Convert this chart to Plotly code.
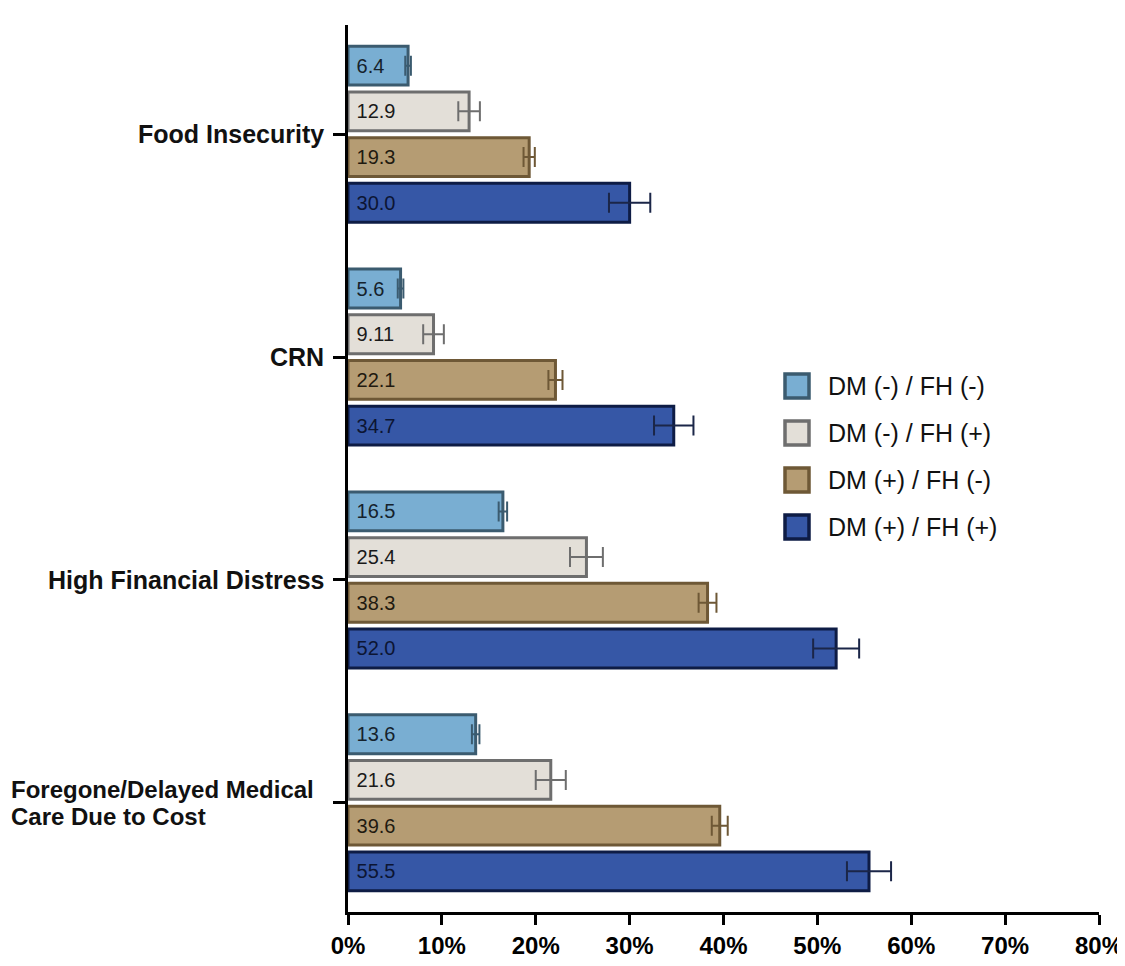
import plotly.graph_objects as go

# ---------------- data ----------------
categories = ["Food Insecurity", "CRN", "High Financial Distress",
              "Foregone/Delayed Medical Care Due to Cost"]
category_labels = ["Food Insecurity", "CRN", "High Financial Distress",
                   "Foregone/Delayed Medical<br>Care Due to Cost"]
series_names = ["DM (-) / FH (-)", "DM (-) / FH (+)", "DM (+) / FH (-)", "DM (+) / FH (+)"]

dm_neg_fh_neg = [6.4, 5.6, 16.5, 13.6]
dm_neg_fh_pos = [12.9, 9.11, 25.4, 21.6]
dm_pos_fh_neg = [19.3, 22.1, 38.3, 39.6]
dm_pos_fh_pos = [30.0, 34.7, 52.0, 55.5]

lbl_neg_neg = ["6.4", "5.6", "16.5", "13.6"]
lbl_neg_pos = ["12.9", "9.11", "25.4", "21.6"]
lbl_pos_neg = ["19.3", "22.1", "38.3", "39.6"]
lbl_pos_pos = ["30.0", "34.7", "52.0", "55.5"]

err_neg_neg = [0.3, 0.3, 0.45, 0.4]
err_neg_pos = [1.15, 1.1, 1.75, 1.6]
err_pos_neg = [0.6, 0.75, 0.95, 0.85]
err_pos_pos = [2.2, 2.1, 2.45, 2.35]

x_ticks = [0, 10, 20, 30, 40, 50, 60, 70, 80]

# ---------------- styles ----------------
fills = ["#79AED2", "#E3DFD8", "#B59C73", "#3657A6"]
outlines = ["#3B5B6F", "#6E6E6E", "#6E5836", "#0E1C45"]
err_colors = ["#3B5B6F", "#6E6E6E", "#6E5836", "#1B2648"]
text_colors = ["#15222C", "#1A1A1A", "#1F1A10", "#0C1533"]

series_vals = [dm_neg_fh_neg, dm_neg_fh_pos, dm_pos_fh_neg, dm_pos_fh_pos]
series_lbls = [lbl_neg_neg, lbl_neg_pos, lbl_pos_neg, lbl_pos_pos]
series_errs = [err_neg_neg, err_neg_pos, err_pos_neg, err_pos_pos]

FONT = "Liberation Sans, Arial, Helvetica, sans-serif"

# page is shown with the browser's default 8px body margin
OFF = 8
PAGE_W, PAGE_H = 1125, 966
W, H = PAGE_W - OFF, PAGE_H - OFF
# plot area in page pixels
PX0, PX1, PY0, PY1 = 348, 1099, 25, 912
L, R, T, B = PX0 - OFF, W - (PX1 - OFF), PY0 - OFF, H - (PY1 - OFF)
plot_w = PX1 - PX0
plot_h = PY1 - PY0


def px_to_paper_x(px):
    return (px - PX0) / plot_w


def py_to_paper_y(py):
    return (PY1 - py) / plot_h


fig = go.Figure()
for i in range(4):
    fig.add_trace(go.Bar(
        name=series_names[i],
        y=categories,
        x=series_vals[i],
        orientation="h",
        text=series_lbls[i],
        texttemplate="\u00a0%{text}",
        textposition="inside",
        insidetextanchor="start",
        textangle=0,
        constraintext="none",
        textfont=dict(family=FONT, size=20, color=text_colors[i], weight="normal"),
        marker=dict(color=fills[i], line=dict(color=outlines[i], width=3)),
        error_x=dict(type="data", array=series_errs[i], visible=True,
                     color=err_colors[i], thickness=2, width=10),
        showlegend=False,
        cliponaxis=False,
    ))

# category labels
for cat, lab in zip(categories, category_labels):
    lines = lab.split("<br>")
    n = len(lines)
    for j, line in enumerate(lines):
        if n == 1:
            xa, xv, fs = "right", px_to_paper_x(326), 25
        else:
            xa, xv, fs = "left", px_to_paper_x(9), 24
        fig.add_annotation(
            x=xv, xref="paper", xanchor=xa,
            y=cat, yref="y", yanchor="middle",
            yshift=((n - 1) / 2 - j) * 27,
            text=line, showarrow=False,
            font=dict(family=FONT, size=fs, color="#111111", weight="bold"),
        )

# legend drawn as boxes + labels
leg_x0 = 785
box = 24
leg_y0 = 386
leg_dy = 47
for i, name in enumerate(series_names):
    yc = leg_y0 + i * leg_dy
    fig.add_shape(
        type="rect", xref="paper", yref="paper",
        x0=px_to_paper_x(leg_x0), x1=px_to_paper_x(leg_x0 + box),
        y0=py_to_paper_y(yc + box / 2), y1=py_to_paper_y(yc - box / 2),
        fillcolor=fills[i], line=dict(color=outlines[i], width=3.5),
    )
    fig.add_annotation(
        x=px_to_paper_x(826), xref="paper", xanchor="left",
        y=py_to_paper_y(yc), yref="paper", yanchor="middle",
        text=name, showarrow=False,
        font=dict(family=FONT, size=25, color="#111111", weight="normal"),
    )

fig.update_layout(
    width=W, height=H,
    margin=dict(l=L, r=R, t=T, b=B, pad=0),
    paper_bgcolor="white", plot_bgcolor="white",
    barmode="group", bargap=0.18, bargroupgap=0.15,
    showlegend=False,
    font=dict(family=FONT),
    xaxis=dict(
        range=[0, 80], tickvals=x_ticks, ticktext=[f"{v}%" for v in x_ticks],
        showgrid=False, zeroline=False,
        showline=True, linecolor="black", linewidth=2.5,
        ticks="outside", ticklen=10, tickwidth=2.5, tickcolor="black",
        tickfont=dict(family=FONT, size=24, color="black", weight="bold"),
        ticklabeloverflow="allow",
        automargin=False,
    ),
    yaxis=dict(
        categoryorder="array", categoryarray=categories,
        autorange=False, range=[3.49, -0.49],
        showgrid=False, zeroline=False,
        showline=True, linecolor="black", linewidth=2.5,
        ticks="outside", ticklen=12, tickwidth=2.5, tickcolor="black",
        showticklabels=False,
        automargin=False,
    ),
)

fig.write_html("out.html")
